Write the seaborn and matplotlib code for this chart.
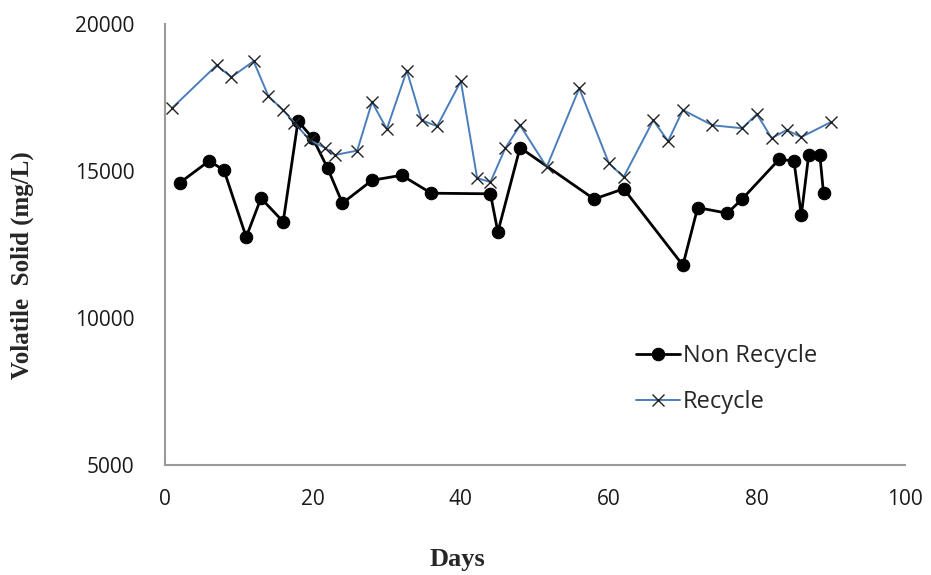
import matplotlib
matplotlib.use("Agg")
import matplotlib.pyplot as plt
import seaborn as sns
import pandas as pd

# Data
nr_days = [2, 6, 8, 11, 13, 16, 18, 20, 22, 24, 28, 32, 36, 44, 45, 48, 58, 62, 70, 72, 76, 78, 83, 85, 86, 87, 88.5, 89]
nr_vals = [14600, 15350, 15030, 12760, 14080, 13280, 16700, 16120, 15100, 13910, 14690, 14860, 14250, 14230, 12930, 15800, 14050, 14400, 11800, 13760, 13570, 14050, 15400, 15350, 13500, 15560, 15560, 14250]

rc_days = [1, 7, 9, 12, 14, 16, 17.5, 19.6, 21.6, 23, 26, 28, 30, 32.7, 34.7, 36.8, 40, 42.2, 44, 46, 48, 51.6, 56, 60, 62, 66, 68, 70, 74, 78, 80, 82, 84, 86, 90]
rc_vals = [17150, 18600, 18200, 18740, 17550, 17070, 16650, 16050, 15800, 15550, 15700, 17350, 16430, 18420, 16730, 16530, 18060, 14760, 14630, 15780, 16560, 15140, 17820, 15270, 14800, 16730, 16020, 17080, 16560, 16460, 16940, 16120, 16400, 16160, 16670]

series_names = ["Non Recycle", "Recycle"]
x_ticks = [0, 20, 40, 60, 80, 100]
y_ticks = [5000, 10000, 15000, 20000]

sns.set_theme(style="white")
plt.rcParams["font.family"] = ["Open Sans", "DejaVu Sans"]

fig = plt.figure(figsize=(9.31, 5.75), dpi=100)
ax = fig.add_axes([0.177, 0.191, 0.795, 0.767])

df_nr = pd.DataFrame({"day": nr_days, "val": nr_vals})
df_rc = pd.DataFrame({"day": rc_days, "val": rc_vals})

sns.lineplot(data=df_nr, x="day", y="val", ax=ax, sort=False, estimator=None,
             color="black", linewidth=2.0, marker="o", markersize=9,
             markeredgecolor="black", markerfacecolor="black", label=series_names[0])
sns.lineplot(data=df_rc, x="day", y="val", ax=ax, sort=False, estimator=None,
             color="#4a7ebb", linewidth=1.4, marker="x", markersize=8,
             markeredgecolor="#222222", markeredgewidth=1.0, label=series_names[1])

ax.set_xlim(0, 100)
ax.set_ylim(5000, 20000)
ax.set_xticks(x_ticks)
ax.set_yticks(y_ticks)
ax.tick_params(axis="both", length=0, labelsize=15, colors="#1a1a1a")
ax.tick_params(axis="x", pad=17)
ax.tick_params(axis="y", pad=22)

for s in ["top", "right"]:
    ax.spines[s].set_visible(False)
for s in ["left", "bottom"]:
    ax.spines[s].set_color("#9a9a9a")
    ax.spines[s].set_linewidth(1.5)

ax.set_xlabel("Days", fontfamily="Liberation Serif", fontweight="bold", fontsize=19)
ax.xaxis.set_label_coords(0.395, -0.213)
ax.xaxis.label.set_va("center")
ax.set_ylabel("Volatile  Solid (mg/L)", fontfamily="Liberation Serif", fontweight="bold", fontsize=18)
ax.yaxis.set_label_coords(-0.192, 0.4535)
ax.yaxis.label.set_va("center")

leg = ax.legend(loc="upper left", bbox_to_anchor=(0.636, 0.275), frameon=False, fontsize=17,
                handlelength=1.9, handletextpad=0.1, labelspacing=0.95,
                borderpad=0, borderaxespad=0)

fig.savefig("out.png", dpi=100)
